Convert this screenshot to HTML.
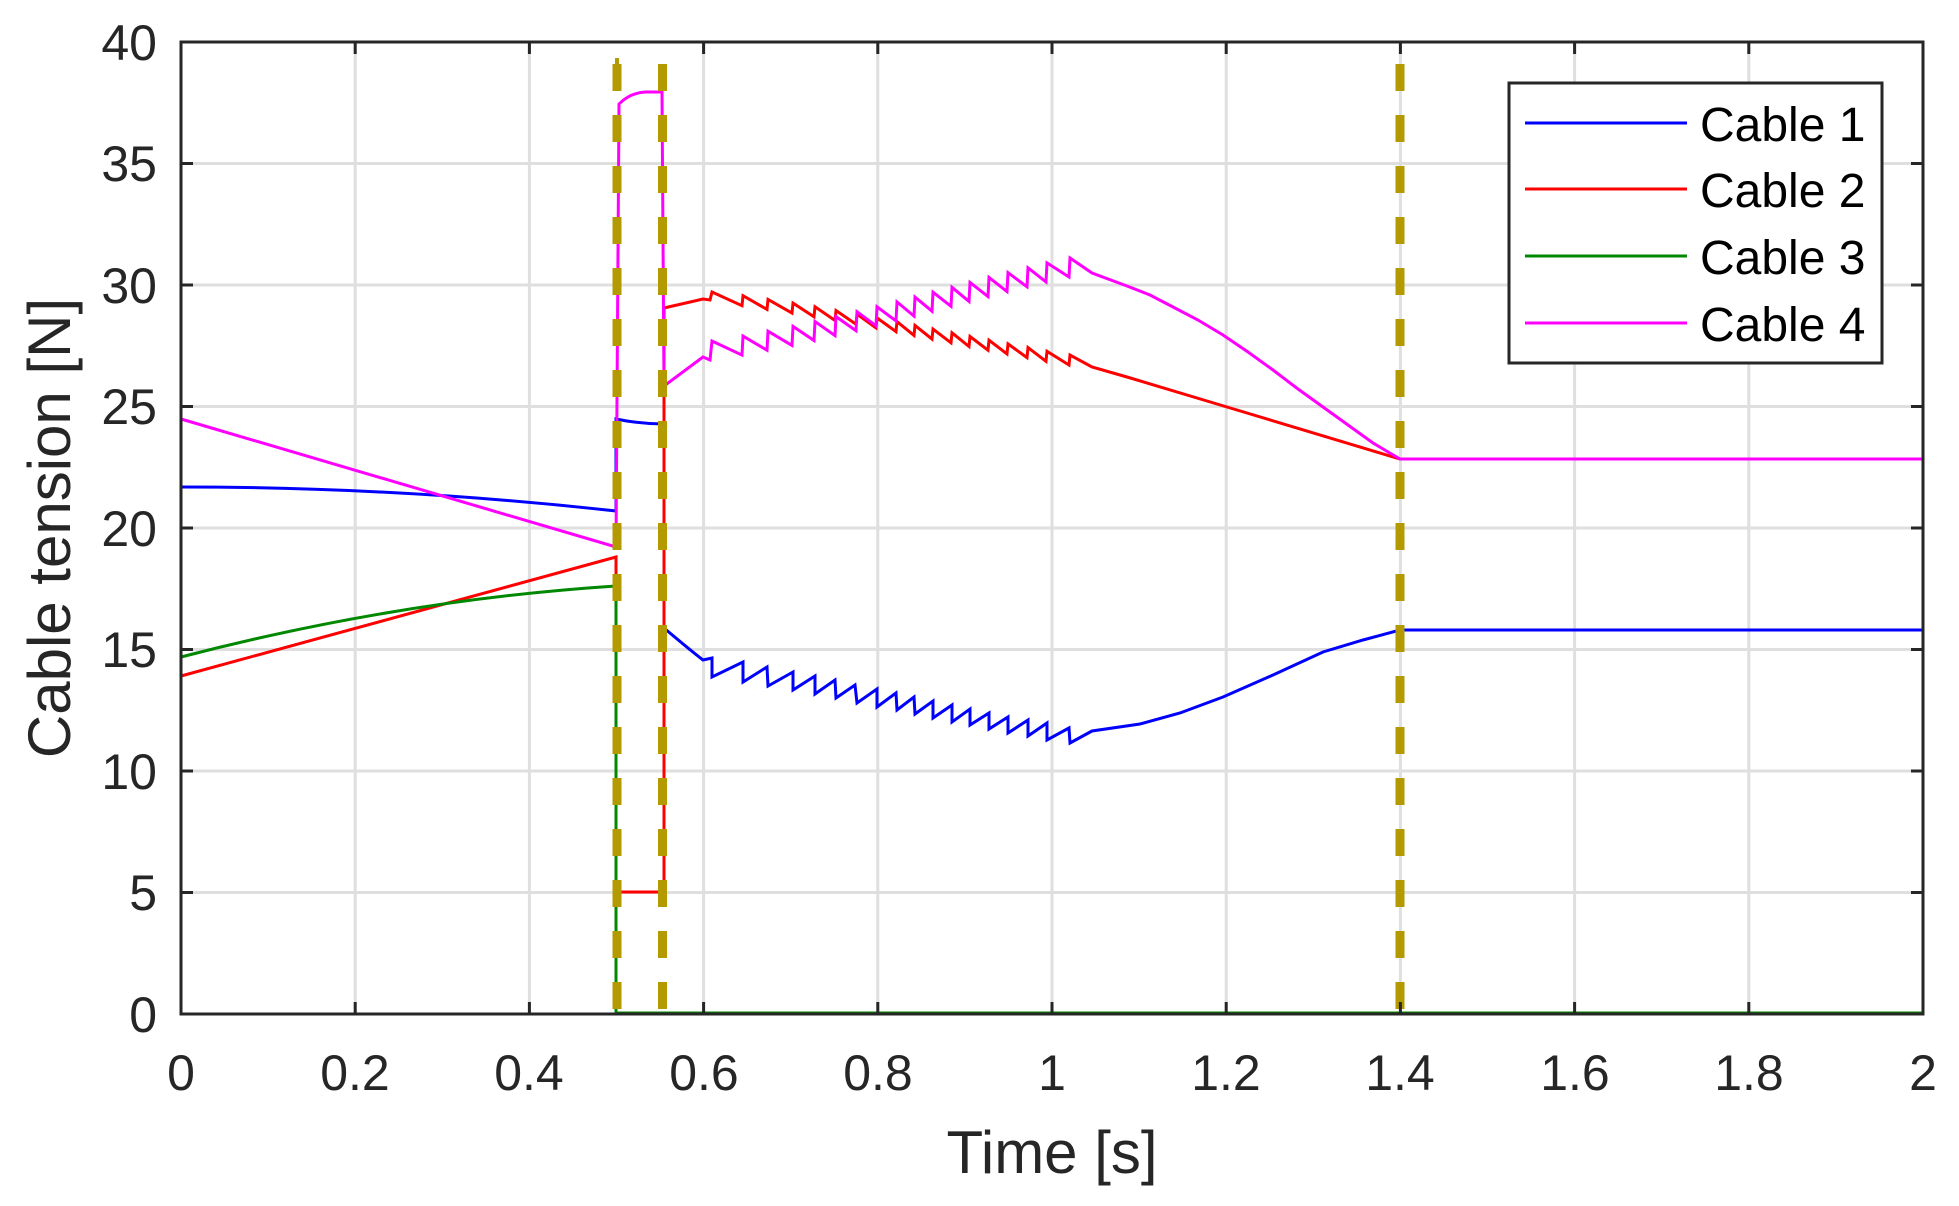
<!DOCTYPE html>
<html><head><meta charset="utf-8"><style>
html,body{margin:0;padding:0;background:#fff;}
svg{display:block;}
text{font-family:"Liberation Sans",sans-serif;fill:#262626;}
</style></head><body>
<svg id="s" width="1959" height="1206" viewBox="0 0 1959 1206" xmlns="http://www.w3.org/2000/svg">
<rect x="0" y="0" width="1959" height="1206" fill="#fff"/>
<g id="grid" stroke="#dfdfdf" stroke-width="3"></g>
<g id="data" fill="none" stroke-width="3" stroke-linejoin="miter"></g>
<g id="dash" stroke="#b29a00" stroke-width="9" stroke-dasharray="27 24"></g>
<rect x="181" y="42" width="1742" height="972" fill="none" stroke="#262626" stroke-width="3"/>
<g id="ticks" stroke="#262626" stroke-width="3"></g>
<g id="xl" font-size="50" text-anchor="middle">
<text x="181" y="1090">0</text><text x="355" y="1090">0.2</text><text x="529" y="1090">0.4</text>
<text x="704" y="1090">0.6</text><text x="878" y="1090">0.8</text><text x="1052" y="1090">1</text>
<text x="1226" y="1090">1.2</text><text x="1400" y="1090">1.4</text><text x="1575" y="1090">1.6</text>
<text x="1749" y="1090">1.8</text><text x="1923" y="1090">2</text>
</g>
<g font-size="50" text-anchor="end">
<text x="157" y="1032">0</text><text x="157" y="910">5</text><text x="157" y="789">10</text>
<text x="157" y="667">15</text><text x="157" y="546">20</text><text x="157" y="424">25</text>
<text x="157" y="303">30</text><text x="157" y="181">35</text><text x="157" y="60">40</text>
</g>
<text x="1052" y="1173" font-size="60" text-anchor="middle">Time [s]</text>
<text transform="translate(70,528) rotate(-90)" font-size="60" text-anchor="middle">Cable tension [N]</text>
<rect x="1509" y="83" width="373" height="280" fill="#fff" stroke="#262626" stroke-width="3"/>
<line x1="1525" y1="123" x2="1687" y2="123" stroke="#0000ff" stroke-width="3"/>
<line x1="1525" y1="189" x2="1687" y2="189" stroke="#ff0000" stroke-width="3"/>
<line x1="1525" y1="256" x2="1687" y2="256" stroke="#008800" stroke-width="3"/>
<line x1="1525" y1="323" x2="1687" y2="323" stroke="#ff00ff" stroke-width="3"/>
<g font-size="48" style="fill:#000">
<text x="1700" y="141" style="fill:#000">Cable 1</text>
<text x="1700" y="207" style="fill:#000">Cable 2</text>
<text x="1700" y="274" style="fill:#000">Cable 3</text>
<text x="1700" y="341" style="fill:#000">Cable 4</text>
</g>
</svg>
<script>
var NS="http://www.w3.org/2000/svg";
function el(p,t,a){var e=document.createElementNS(NS,t);for(var k in a)e.setAttribute(k,a[k]);document.getElementById(p).appendChild(e);return e;}
for(var i=1;i<10;i++){var x=181+i*174.2;el("grid","line",{x1:x,y1:42,x2:x,y2:1014});}
for(var j=1;j<8;j++){var y=1014-j*121.5;el("grid","line",{x1:181,y1:y,x2:1923,y2:y});}
for(var i=1;i<10;i++){var x=181+i*174.2;el("ticks","line",{x1:x,y1:1014,x2:x,y2:1002});el("ticks","line",{x1:x,y1:42,x2:x,y2:54});}
for(var j=1;j<8;j++){var y=1014-j*121.5;el("ticks","line",{x1:181,y1:y,x2:193,y2:y});el("ticks","line",{x1:1923,y1:y,x2:1911,y2:y});}
var T=[712,743,768,793,815,836,857,877,897,915,933,952,970,989,1008,1028,1047,1070];
var n=T.length;
var bp=[[743,662],[767,667],[793,672],[815,676],[835,680],[855,685],[877,689],[896,693],[914,697],[933,701],[952,705],[970,709],[989,713],[1008,717],[1028,720],[1047,723],[1069,728]];
var bl=[677,682,686,690,694,698,703,707,710,714,718,722,725,729,733,736,740,743];
var d="M181,487 Q400,487 616,511 L616,419 Q640,424 664,424 L664,628 Q690,650 703,660 L712,658 L712,677";
for(var k=0;k<bp.length;k++){d+=" L"+bp[k][0]+","+bp[k][1]+" L"+T[k+1]+","+bl[k+1];}
d+=" L1092,731 L1140,724 L1180,713 L1223,697 L1273,675 L1323,652 L1363,640 L1400,630 L1923,630";
el("data","path",{d:d,stroke:"#0000ff"});
var rp=[],mp=[];
for(var k=0;k<n;k++){rp.push(292+(355-292)*k/(n-1));mp.push(341+(258-341)*k/(n-1));}
d="M181,676 L616,557 L616,892 L664,892 L664,308 L703,299 L710,300 L712,"+rp[0].toFixed(1);
for(var k=1;k<n;k++){d+=" L"+(T[k]-1)+","+(rp[k]+10).toFixed(1)+" L"+T[k]+","+rp[k].toFixed(1);}
d+=" L1092,367 L1127,377 L1227,407 L1400,459 L1923,459";
el("data","path",{d:d,stroke:"#ff0000"});
el("data","path",{d:"M181,657 Q400,600 616,586 L616,1013 L1923,1013",stroke:"#008800"});
d="M181,419 L616,547 L619,104 Q630,93 645,92 L662,92 L664,386 L703,357 L710,360 L712,"+mp[0].toFixed(1);
for(var k=1;k<n;k++){d+=" L"+(T[k]-1)+","+(mp[k]+19).toFixed(1)+" L"+T[k]+","+mp[k].toFixed(1);}
d+=" L1092,273 L1127,286 L1150,295 L1173,307 L1198,320 L1223,335 L1248,352 L1273,370 L1298,389 L1323,407 L1348,425 L1373,443 L1400,459 L1923,459";
el("data","path",{d:d,stroke:"#ff00ff"});
el("dash","line",{x1:617,y1:58,x2:617,y2:64,"stroke-width":4,"stroke-dasharray":"none"});
[617,662.5,1400].forEach(function(x){el("dash","line",{x1:x,y1:64,x2:x,y2:1014});});
</script>
</body></html>
